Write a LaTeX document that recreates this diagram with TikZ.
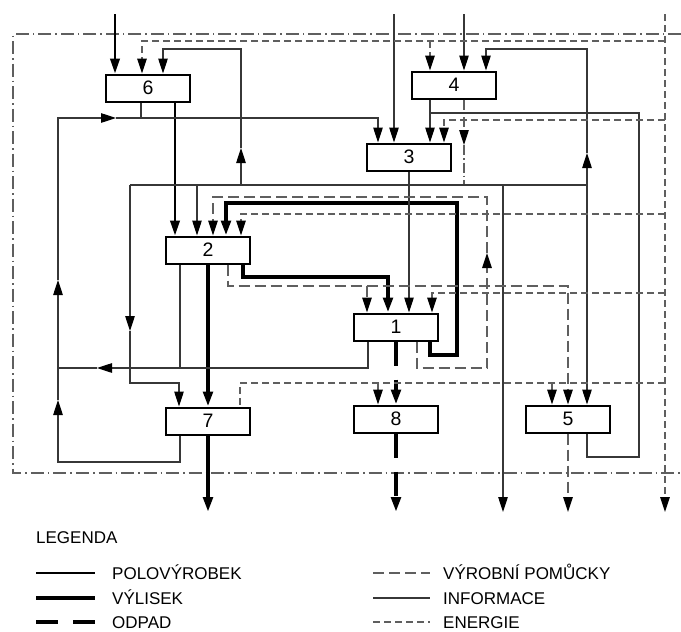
\documentclass[tikz,border=0pt]{standalone}
\usepackage{fontspec}
\setmainfont{Liberation Sans}
\usepackage{tikz}
\usetikzlibrary{arrows.meta}
\definecolor{infogray}{RGB}{55,55,55}
\definecolor{dashgray}{RGB}{95,95,95}
\tikzset{
  box/.style={
    rectangle, draw, line width=2pt, fill=white,
    minimum width=84pt, minimum height=27pt, inner sep=0pt,
    font=\fontsize{19.5}{22}\selectfont
  },
  arr/.style={-{Triangle[length=15pt, width=9.5pt, color=black]}},
  polo/.style={line width=2.5pt},
  vyl/.style={line width=4pt},
  odp/.style={line width=4pt, dash pattern=on 24pt off 14pt},
  pom/.style={line width=1.4pt, dashgray, dash pattern=on 11pt off 5pt},
  inf/.style={line width=1.1pt, infogray},
  ene/.style={line width=1.4pt, dashgray, dash pattern=on 7pt off 4pt},
  ddot/.style={line width=1.1pt, dashgray, dash pattern=on 10pt off 3pt on 1.5pt off 3pt},
  hran/.style={line width=1.1pt, dashgray, dash pattern=on 13pt off 4pt on 1.5pt off 4pt},
  lgd/.style={anchor=base west, inner sep=0pt, font=\fontsize{17}{20}\selectfont}
}
\begin{document}
\begin{tikzpicture}[x=1pt, y=-1pt]
  \useasboundingbox (0,0) rectangle (681,632);

  \node[box] (p6) at (148,88)  {6};
  \node[box] (p4) at (454,85)  {4};
  \node[box] (p3) at (409,157) {3};
  \node[box] (p2) at (208,250) {2};
  \node[box] (p1) at (396,327) {1};
  \node[box] (p7) at (208,421) {7};
  \node[box] (p8) at (396,419) {8};
  \node[box] (p5) at (568,419) {5};

  \draw[hran] (681,34) -- (13,34) -- (13,473) -- (681,473);

  \draw[polo,arr] (115,14) -- ([xshift=-33pt]p6.north);
  \draw[polo,arr] ([xshift=27pt]p6.south) -- ([xshift=-33pt]p2.north);

  \draw[vyl,arr] (p2.south) -- (p7.north);
  \draw[vyl,arr] (p7.south) -- (208,512);
  \draw[vyl,arr] ([xshift=35pt]p2.south) |- (388,277) -- ([xshift=-8pt]p1.north);
  \draw[vyl,arr] ([xshift=34pt]p1.south) |- (457,355) -- (457,203)
                 -| ([xshift=18pt]p2.north);

  \draw[odp,arr] (p1.south) -- (p8.north);
  \draw[odp,arr] (p8.south) -- (396,512);

  \draw[inf,arr] (394,14) -- ([xshift=-15pt]p3.north);
  \draw[inf,arr] (464,14) -- ([xshift=10pt]p4.north);
  \draw[ddot,arr] ([xshift=10pt]p4.south) -- (464,145);
  \draw[ddot] (464,145) -- (464,185);
  \draw[inf,arr] ([xshift=-24pt]p4.south) -- ([xshift=21pt]p3.north);
  \draw[inf] ([xshift=19pt]p5.south) |- (639,457) -- (639,113) -- (430,113);
  \draw[inf,arr] (p3.south) -- ([xshift=13pt]p1.north);
  \draw[inf] (130,185) -- (587,185);
  \draw[inf,arr] (587,185) -- (587,153);
  \draw[inf,arr] (587,153) |- (486,49) -- ([xshift=32pt]p4.north);
  \draw[inf,arr] (587,185) -- ([xshift=19pt]p5.north);
  \draw[inf,arr] (503,185) -- (503,512);
  \draw[inf,arr] (241,185) -- (241,148);
  \draw[inf,arr] (241,148) |- (163,49) -- ([xshift=15pt]p6.north);
  \draw[inf,arr] (197,185) -- ([xshift=-11pt]p2.north);
  \draw[inf,arr] (130,185) -- (130,331);
  \draw[inf,arr] (130,331) |- (179,383) -- ([xshift=-29pt]p7.north);
  \draw[inf] ([xshift=-28pt]p2.south) -- (180,368);
  \draw[inf,arr] ([xshift=-28pt]p1.south) |- (97,368);
  \draw[inf] (97,368) -- (58,368);
  \draw[inf,arr] ([xshift=-28pt]p7.south) |- (58,462) -- (58,400);
  \draw[inf,arr] (58,400) -- (58,280);
  \draw[inf,arr] (58,280) |- (116,118);
  \draw[inf,arr] (116,118) -| ([xshift=-31pt]p3.north);
  \draw[inf] ([xshift=-7pt]p6.south) -- (141,118);

  \draw[pom,arr] ([xshift=21pt]p1.south) |- (487,368) -- (487,253);
  \draw[pom,arr] (487,253) |- (213,197) -- ([xshift=5pt]p2.north);
  \draw[pom,arr] ([xshift=20pt]p2.south) |- (568,286) -- (p5.north);
  \draw[pom,arr] (367,286) -- ([xshift=-29pt]p1.north);
  \draw[pom,arr] (p5.south) -- (568,512);

  \draw[ene,arr] (665,14) -- (665,512);
  \draw[ene,arr] (665,41) -| ([xshift=-6pt]p6.north);
  \draw[ene,arr] (430,41) -- ([xshift=-24pt]p4.north);
  \draw[ene,arr] (665,120) -| ([xshift=35pt]p3.north);
  \draw[ene,arr] (665,214) -| ([xshift=33pt]p2.north);
  \draw[ene,arr] (665,293) -| ([xshift=36pt]p1.north);
  \draw[ene] (665,383) -| ([xshift=32pt]p7.north);
  \draw[ene,arr] (378,383) -- ([xshift=-18pt]p8.north);
  \draw[ene,arr] (552,383) -- ([xshift=-16pt]p5.north);

  \node[lgd] (leg) at (36,543) {LEGENDA};
  \draw[polo] (36,573) -- (95,573);
  \node[lgd] (lpolo) at (112,579) {POLOVÝROBEK};
  \draw[vyl] (36,598) -- (95,598);
  \node[lgd] (lvyl) at (112,604) {VÝLISEK};
  \draw[line width=4pt, dash pattern=on 22pt off 15pt] (36,622) -- (95,622);
  \node[lgd] (lodp) at (112,628) {ODPAD};
  \draw[pom] (373,573) -- (430,573);
  \node[lgd] (lpom) at (443,579) {VÝROBNÍ POMŮCKY};
  \draw[inf] (373,598) -- (430,598);
  \node[lgd] (linf) at (443,604) {INFORMACE};
  \draw[ene] (373,622) -- (430,622);
  \node[lgd] (lene) at (443,628) {ENERGIE};

\end{tikzpicture}
\end{document}
